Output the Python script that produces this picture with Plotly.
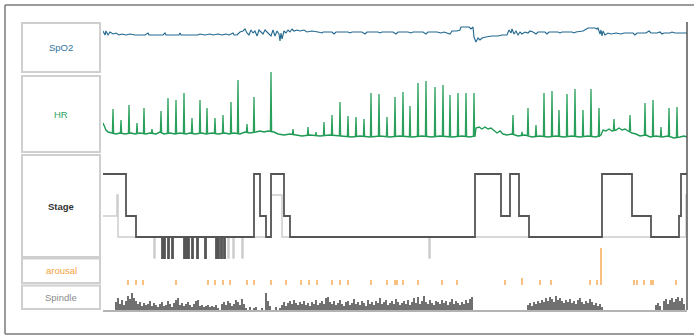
import plotly.graph_objects as go

# ---------------- data (time in minutes from lights-off) ----------------
spo2_minutes = [0, 2, 3, 5, 7, 10, 13, 16, 19, 23, 27, 32, 42, 45, 46, 60, 62, 63, 76, 77,
                78, 95, 97, 102, 107, 110, 115, 119, 123, 126, 130, 131, 134, 137, 140, 142, 144, 146, 148, 150,
                152, 154, 156, 158, 160, 162, 164, 166, 168, 170, 172, 174, 176, 177, 178, 179, 181, 183, 185, 187,
                189, 191, 194, 197, 201, 204, 209, 215, 219, 220, 229, 231, 233, 245, 247, 249, 259, 262, 264, 275,
                277, 279, 290, 293, 295, 305, 308, 310, 320, 323, 325, 334, 338, 341, 347, 349, 354, 357, 358, 366,
                368, 370, 371, 373, 375, 377, 379, 383, 389, 395, 399, 404, 406, 408, 409, 411, 413, 415, 417, 419,
                422, 425, 427, 430, 433, 435, 442, 444, 446, 455, 457, 459, 469, 471, 473, 480, 483, 485, 492, 494,
                495, 497, 498, 499, 500, 502, 505, 508, 513, 518, 521, 530, 532, 534, 543, 546, 548, 554, 557, 559,
                561, 567, 569, 572, 578, 584]
spo2_pct = [96, 94, 96, 94, 95.5, 94.5, 95, 94, 94.5, 94, 94.5, 94, 94, 95, 94, 94, 95, 94, 94, 95,
            94, 94, 94.5, 94, 94.5, 94, 94.5, 94, 94.5, 94, 95, 94, 94, 95.5, 96, 97, 95, 94, 96.5, 95,
            96, 93.5, 96.5, 95.5, 94.5, 96.5, 95.5, 95, 93.5, 96.5, 93.5, 96, 94.5, 91, 95, 92, 96, 95, 96.5, 95.5,
            97, 96, 96.5, 96, 96.5, 95.5, 96, 95.5, 95, 95.5, 95.5, 94.5, 95.5, 95.5, 95, 95.5, 95.5, 94.5, 95.5, 95.5,
            95, 95.5, 95.5, 94.5, 95.5, 95.5, 95, 95.5, 95.5, 94.5, 95.5, 95.5, 95, 95.5, 94.5, 96, 96, 96.5, 98, 98,
            97, 98, 93, 90.5, 92.5, 91.5, 92.5, 93, 93.5, 93.5, 94, 94, 96.5, 95, 97, 94.5, 96, 94, 95.5, 94.5,
            95.5, 95, 96, 95.5, 94.5, 95.5, 95.5, 94.5, 95.5, 95.5, 95, 95.5, 95.5, 95, 95.5, 96, 97, 97.5, 97.5, 97,
            97.5, 94.5, 96.5, 93.5, 96, 94, 95, 94.5, 95, 94.5, 95, 95, 94, 95, 95, 96, 95, 95, 95.5, 94.5,
            95, 95, 95.5, 95, 95, 95]

hr_minutes = [0, 1, 3, 5, 8, 13, 17, 22, 28, 32, 37, 43, 47, 53, 57, 61, 67, 72, 77, 83,
              87, 92, 99, 103, 109, 115, 122, 126, 131, 137, 142, 147, 153, 157, 161, 165, 171, 175, 181, 187,
              193, 199, 207, 217, 227, 237, 249, 257, 267, 277, 287, 297, 309, 319, 329, 337, 349, 359, 367, 372,
              373, 376, 379, 382, 385, 388, 391, 394, 397, 400, 404, 409, 415, 422, 429, 437, 445, 453, 461, 469,
              477, 485, 493, 498, 500, 503, 506, 509, 513, 516, 519, 522, 525, 529, 533, 537, 543, 547, 553, 559,
              565, 571, 577, 581, 584]
hr_bpm = [66.5, 65.5, 63, 62, 61.5, 61, 61.5, 61, 61.5, 61, 61.5, 61, 61.5, 61, 62, 61, 61.5, 61, 61.5, 61,
          61.5, 61, 61.5, 61, 61.5, 61, 61.5, 61, 61.5, 61, 62, 61.5, 62, 62.5, 62, 62.5, 62, 61, 60.5, 61,
          60.5, 60, 60.5, 60, 60.5, 60, 59.5, 60, 59.5, 60, 59.5, 60, 59.5, 60, 59.5, 60, 59.5, 60, 59.5, 60,
          64, 64.5, 63.5, 64.5, 63.5, 64, 62.5, 61.5, 62.5, 61, 60.5, 61, 60, 60.5, 59.5, 60, 59.5, 60, 59.5, 60,
          59.5, 60, 59.5, 60.5, 63, 62.5, 63.5, 62.5, 63, 64, 63, 63.5, 62.5, 61.5, 61, 60, 60.5, 59.5, 60, 59.5,
          60, 59, 59.5, 60, 59.5]

hr_spike_minutes = [10, 18, 26, 34, 41, 49, 58, 65, 73, 81, 89, 97, 104, 112, 120, 128, 135, 144, 151, 168,
                    190, 205, 213, 221, 229, 237, 245, 253, 261, 268, 276, 284, 292, 300, 307, 315, 323, 332, 340, 347,
                    355, 363, 371, 410, 419, 425, 433, 441, 449, 456, 464, 472, 480, 488, 496, 511, 527, 542, 550, 558,
                    566, 574]
hr_spike_foot = [61.5, 61.5, 61, 61, 61.5, 61.5, 62, 61, 61, 61.5, 61.5, 61, 61, 61.5, 61, 61, 61.5, 62, 61.5, 62.5,
                 61, 60.5, 60, 60, 60.5, 60, 60, 60, 60, 59.5, 60, 59.5, 60, 60, 59.5, 60, 60, 59.5, 60, 59.5,
                 60, 60, 59.5, 61, 60.5, 60.5, 60, 60, 60, 60, 59.5, 60, 59.5, 60, 59.5, 62.5, 62.5, 60.5, 60, 59.5,
                 60, 59.5]
hr_spike_peak = [73.5, 68, 75.5, 66.5, 74, 63.5, 72.5, 79, 78, 81.5, 69, 78, 74, 69, 70.5, 77, 88, 66, 79.5, 92,
                 63.5, 64.5, 62, 67, 70.5, 77, 70, 69.5, 68.5, 81.5, 81, 69.5, 79.5, 82, 75, 86.5, 87.5, 84.5, 85.5, 80.5,
                 81.5, 81.5, 81.5, 70.5, 62, 74, 65.5, 81.5, 82.5, 73, 81, 83.5, 73, 83.5, 74, 68.5, 70.5, 76.5, 78, 64.5,
                 74, 74.5]

# stage codes: 4 = W, 3 = REM, 2 = N1, 1 = N2, 0 = N3
stage_minutes = [0, 23, 33, 59, 60, 61, 62, 65, 66, 69, 70, 81, 82, 83, 84, 85, 86, 89, 90, 94,
                 95, 102, 103, 113, 114, 115, 116, 118, 119, 121, 122, 151, 157, 163, 168, 181, 187, 372, 398, 407,
                 416, 426, 499, 529, 548, 576, 578, 584]
stage_code = [4, 2, 1, 0, 1, 0, 1, 0, 1, 0, 1, 0, 1, 0, 1, 0, 1, 0, 1, 0,
              1, 0, 1, 0, 1, 0, 1, 0, 1, 0, 1, 4, 2, 1, 4, 2, 1, 4, 2, 4,
              2, 1, 4, 2, 1, 2, 4, 4]

stage2_minutes = [0, 14, 15, 51, 52, 125, 126, 130, 131, 139, 140, 168, 179, 326, 327, 583, 584]
stage2_code = [2, 3, 1, 0, 1, 0, 1, 0, 1, 0, 1, 3, 1, 0, 1, 3, 3]

arousal_minutes = [25, 33, 40, 73, 105, 112, 120, 127, 144, 151,
                   168, 183, 198, 206, 214, 229, 237, 245, 268, 284,
                   292, 294, 300, 315, 339, 354, 402, 419, 437, 448,
                   487, 494, 498, 531, 534, 541, 548, 550, 573]
arousal_level = [1, 1, 1, 1, 1, 1, 1, 1, 1, 1,
                 1, 1, 1, 1, 1, 1, 1, 1, 1, 1,
                 1, 1, 1, 1, 1, 1, 1, 1.4, 1, 1,
                 1, 1, 7.4, 1, 1, 1, 1, 1, 1]

# spindle activity per 2-minute epoch (292 epochs)
spindle_epoch_min = 2
spindle_activity = (
    [0, 0, 0, 0, 0, 0]
    + [8, 12, 6, 10, 5, 9, 14, 11, 17, 12]
    + [9, 6, 8, 4, 7, 5, 6, 9, 4, 7]
    + [5, 3, 6, 8, 4, 5, 9, 6, 3, 7]
    + [10, 12, 5, 7, 4, 6, 8, 5, 3, 6]
    + [9, 10, 4, 5, 3, 4, 5, 3, 4, 3]
    + [5, 2, 0, 6, 8, 5, 9, 7, 4, 6]
    + [10, 8, 5, 11, 6, 2, 0, 3, 0, 2]
    + [3, 0, 0, 2, 0, 17, 9, 4, 0, 0, 3, 0, 2]
    + [5, 8, 4, 7, 9, 6, 10, 7, 5, 8]
    + [6, 9, 5, 7, 4, 8, 6, 10, 5, 7]
    + [9, 6, 12, 13, 8, 6, 9, 5, 7, 10]
    + [6, 4, 8, 9, 5, 7, 11, 6, 8, 5]
    + [9, 7, 4, 10, 6, 8, 5, 9, 7, 12]
    + [6, 8, 10, 5, 7, 9, 6, 11, 8, 5]
    + [7, 9, 6, 10, 5, 8, 12, 7, 13, 6]
    + [9, 14, 8, 6, 10, 7, 5, 9, 8, 6]
    + [10, 7, 9, 5, 8, 11, 6, 9, 7, 5]
    + [8, 6, 10, 7, 11, 13]
    + [0] * 27
    + [5, 7, 4, 8, 6, 9, 7, 10, 8, 12]
    + [9, 13, 11, 8, 14, 10, 12, 9, 7, 10]
    + [8, 11, 7, 9, 6, 10, 12, 8, 6, 9]
    + [7, 11, 8, 5, 7, 4, 6, 3]
    + [0] * 26
    + [5, 7, 4, 0, 9, 11, 6, 10, 12, 8, 11, 13, 9, 12, 6]
    + [0]
)

panel_labels = ["SpO2", "HR", "Stage", "arousal", "Spindle"]
panel_colors = ["#2f729b", "#2ea563", "#333333", "#f5a23c", "#8a8a8a"]

# ---------------- layout helpers (pixel geometry) ----------------
W, H = 697, 336
def fx(p):
    return p / W
def fy(p):
    return 1 - p / H

fig = go.Figure()

fig.add_trace(go.Scatter(x=spo2_minutes, y=spo2_pct, mode="lines", yaxis="y",
                         line=dict(color="#22688f", width=1.1), hoverinfo="skip"))

fig.add_trace(go.Scatter(x=hr_minutes, y=hr_bpm, mode="lines", yaxis="y2",
                         line=dict(color="#1f9a55", width=1.4), hoverinfo="skip"))
sx, sy = [], []
for t, f, p in zip(hr_spike_minutes, hr_spike_foot, hr_spike_peak):
    sx += [t - 0.6, t, t + 0.6, None]
    sy += [f, p, f, None]
fig.add_trace(go.Scatter(x=sx, y=sy, mode="lines", yaxis="y2",
                         line=dict(color="#2aa05c", width=1.3), hoverinfo="skip"))

fig.add_trace(go.Scatter(x=stage2_minutes, y=stage2_code, mode="lines", yaxis="y3",
                         line=dict(color="#cdcdcd", width=1.5, shape="hv"), hoverinfo="skip"))
fig.add_trace(go.Scatter(x=stage_minutes, y=stage_code, mode="lines", yaxis="y3",
                         line=dict(color="#555555", width=1.8, shape="hv"), hoverinfo="skip"))

ax, ay = [], []
for t, v in zip(arousal_minutes, arousal_level):
    ax += [t, t, None]
    ay += [0, v, None]
fig.add_trace(go.Scatter(x=ax, y=ay, mode="lines", yaxis="y4",
                         line=dict(color="#f6a548", width=1.4), hoverinfo="skip"))

sp_x = [i * spindle_epoch_min + spindle_epoch_min / 2 for i in range(len(spindle_activity))]
fig.add_trace(go.Bar(x=sp_x, y=spindle_activity, yaxis="y5", width=1.5,
                     marker=dict(color="#707070", line=dict(width=0)), hoverinfo="skip"))

hidden = dict(showticklabels=False, showgrid=False, zeroline=False, showline=False, ticks="", anchor="x",
              fixedrange=True)

fig.update_layout(
    width=W, height=H,
    margin=dict(l=0, r=0, t=0, b=0),
    paper_bgcolor="white", plot_bgcolor="rgba(0,0,0,0)",
    showlegend=False, bargap=0,
    xaxis=dict(domain=[fx(103), fx(687)], range=[0, 584], anchor="y5",
               showticklabels=False, showgrid=False, zeroline=False, ticks="",
               showline=True, linecolor="#b3b3b3", linewidth=1.5, fixedrange=True),
    yaxis=dict(domain=[fy(72), fy(23)], range=[75.5, 100], **hidden),
    yaxis2=dict(domain=[fy(152), fy(68)], range=[52, 94], **hidden),
    yaxis3=dict(domain=[fy(268.5), fy(163.5)], range=[-0.5, 4.5], **hidden),
    yaxis4=dict(domain=[fy(285), fy(245)], range=[0, 8], **hidden),
    yaxis5=dict(domain=[fy(310), fy(290)], range=[0, 20], **hidden),
)

frame = dict(color="#7a7a7a", width=1.5)
shapes = [
    dict(type="line", xref="paper", yref="paper", x0=fx(5), x1=fx(694), y0=fy(5), y1=fy(5), line=frame),
    dict(type="line", xref="paper", yref="paper", x0=fx(5), x1=fx(694), y0=fy(334), y1=fy(334), line=frame),
    dict(type="line", xref="paper", yref="paper", x0=fx(5), x1=fx(5), y0=fy(334), y1=fy(5), line=frame),
    dict(type="line", xref="paper", yref="paper", x0=fx(687), x1=fx(687), y0=fy(310), y1=fy(22),
         line=dict(color="#555555", width=1.5)),
]
boxes = [(23, 72), (76, 152), (155, 257), (258.5, 283), (285.5, 309)]
for (top, bot), lab, col in zip(boxes, panel_labels, panel_colors):
    shapes.append(dict(type="rect", xref="paper", yref="paper", x0=fx(22), x1=fx(100),
                       y0=fy(bot), y1=fy(top), line=dict(color="#cfcfcf", width=2),
                       fillcolor="white", layer="below"))
    txt = "<b>%s</b>" % lab if lab == "Stage" else lab
    fig.add_annotation(x=fx(61), y=fy((top + bot) / 2), xref="paper", yref="paper",
                       text=txt, showarrow=False, xanchor="center", yanchor="middle",
                       font=dict(family="Liberation Sans, Arial, sans-serif", size=9.5, color=col))
fig.update_layout(shapes=shapes)

fig.write_html("out.html", config={"displayModeBar": False, "staticPlot": True})

# remove the browser's default page margin so the figure sits at the window origin
with open("out.html", "r", encoding="utf-8") as fh:
    page = fh.read()
page = page.replace("<body>", '<body style="margin:0;padding:0;overflow:hidden">', 1)
with open("out.html", "w", encoding="utf-8") as fh:
    fh.write(page)
